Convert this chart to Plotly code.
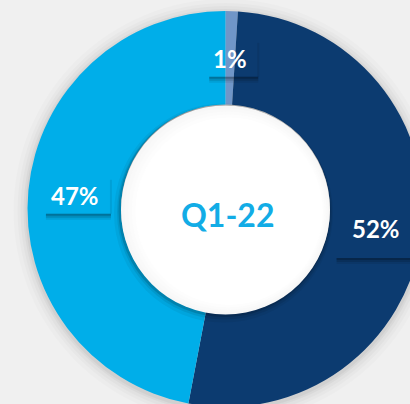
import math
import plotly.graph_objects as go

# ---- data ----
categories = ["Other", "Segment A", "Segment B"]
values = [1, 52, 47]
labels_text = ["1%", "52%", "47%"]
center_label = "Q1-22"

# ---- style ----
colors = ["#7096C8", "#0C3B70", "#00AEE9"]
BG = "#F0F0F0"
W, H = 430, 420           # figure larger than the viewport so the donut is cropped like the reference
CX, CY, R = 225.5, 209.0, 198.0   # pixel geometry (from top-left)
HOLE_R = 104.5
HOLE = HOLE_R / R


def px(x):
    return x / W


def py(y):
    return 1 - y / H


fig = go.Figure()
fig.add_trace(go.Pie(
    labels=categories,
    values=values,
    sort=False,
    direction="clockwise",
    rotation=0,
    hole=HOLE,
    marker=dict(colors=colors, line=dict(width=0)),
    textinfo="none",
    hoverinfo="label+percent",
    showlegend=False,
    domain=dict(x=[px(CX - R), px(CX + R)], y=[py(CY + R), py(CY - R)]),
))

shapes = []
# soft outer shadow of the donut
for dr, a in [(14, 0.015), (10, 0.02), (7, 0.025), (4, 0.03), (2, 0.04)]:
    shapes.append(dict(type="circle", xref="paper", yref="paper", layer="below",
                       x0=px(CX - R - dr), x1=px(CX + R + dr),
                       y0=py(CY + R + dr + 2), y1=py(CY - R - dr + 2),
                       fillcolor=f"rgba(0,0,0,{a})", line=dict(width=0)))

annotations = []
total = sum(values)
r_mid = (R + HOLE_R) / 2
cum = 0
box_half = {"1%": (27, 19), "47%": (35, 19), "52%": (45, 30)}
for v, t in zip(values, labels_text):
    mid = (cum + v / 2) / total * 2 * math.pi
    cum += v
    lx = CX + r_mid * math.sin(mid)
    ly = CY - r_mid * math.cos(mid)
    hw, hh = box_half[t]
    # drop shadow strip under the (transparent) label box
    for off, a in [(6, 0.08), (4, 0.12), (2, 0.18)]:
        shapes.append(dict(type="rect", xref="paper", yref="paper", layer="above",
                           x0=px(lx - hw + 6), x1=px(lx + hw + 1),
                           y0=py(ly + hh + off), y1=py(ly + hh),
                           fillcolor=f"rgba(0,0,0,{a})", line=dict(width=0)))
    shapes.append(dict(type="rect", xref="paper", yref="paper", layer="above",
                       x0=px(lx + hw), x1=px(lx + hw + 2),
                       y0=py(ly + hh), y1=py(ly - hh + 4),
                       fillcolor="rgba(0,0,0,0.08)", line=dict(width=0)))
    annotations.append(dict(x=px(lx), y=py(ly + 1), xref="paper", yref="paper",
                            text=t, showarrow=False, xanchor="center", yanchor="middle",
                            font=dict(family="Lato", size=24, color="white", weight="bold")))

# white centre disc with soft shadow
for dr, dx, dy, a in [(5, -2, 3, 0.05), (3, -1, 2, 0.08), (1.5, -1, 1, 0.14)]:
    shapes.append(dict(type="circle", xref="paper", yref="paper", layer="above",
                       x0=px(CX - HOLE_R - dr + dx), x1=px(CX + HOLE_R + dr + dx),
                       y0=py(CY + 1 + HOLE_R + dr + dy), y1=py(CY + 1 - HOLE_R - dr + dy),
                       fillcolor=f"rgba(0,0,0,{a})", line=dict(width=0)))
shapes.append(dict(type="circle", xref="paper", yref="paper", layer="above",
                   x0=px(CX - HOLE_R), x1=px(CX + HOLE_R),
                   y0=py(CY + 1 + HOLE_R), y1=py(CY + 1 - HOLE_R),
                   fillcolor="#F7F7F7", line=dict(width=0)))
for k, col in enumerate(["#F9F9F9", "#FBFBFB", "#FDFDFD", "#FFFFFF"]):
    s = 3 * (k + 1)
    shapes.append(dict(type="circle", xref="paper", yref="paper", layer="above",
                       x0=px(CX - HOLE_R + s * 1.2), x1=px(CX + HOLE_R - s * 0.6),
                       y0=py(CY + 1 + HOLE_R - s * 0.8), y1=py(CY + 1 - HOLE_R + s),
                       fillcolor=col, line=dict(width=0)))

annotations.append(dict(x=px(CX + 1.5), y=py(CY + 5), xref="paper", yref="paper",
                        text=center_label, showarrow=False, xanchor="center", yanchor="middle",
                        font=dict(family="Lato", size=32, color="#12ACE6", weight="bold")))

fig.update_layout(
    width=W, height=H,
    margin=dict(l=0, r=0, t=0, b=0),
    paper_bgcolor=BG, plot_bgcolor=BG,
    shapes=shapes, annotations=annotations,
)
fig.write_html(
    "out.html",
    config={"displayModeBar": False},
    post_script="document.body.style.margin='0';document.body.style.background='#F0F0F0';"
                "document.documentElement.style.overflow='hidden';",
)
